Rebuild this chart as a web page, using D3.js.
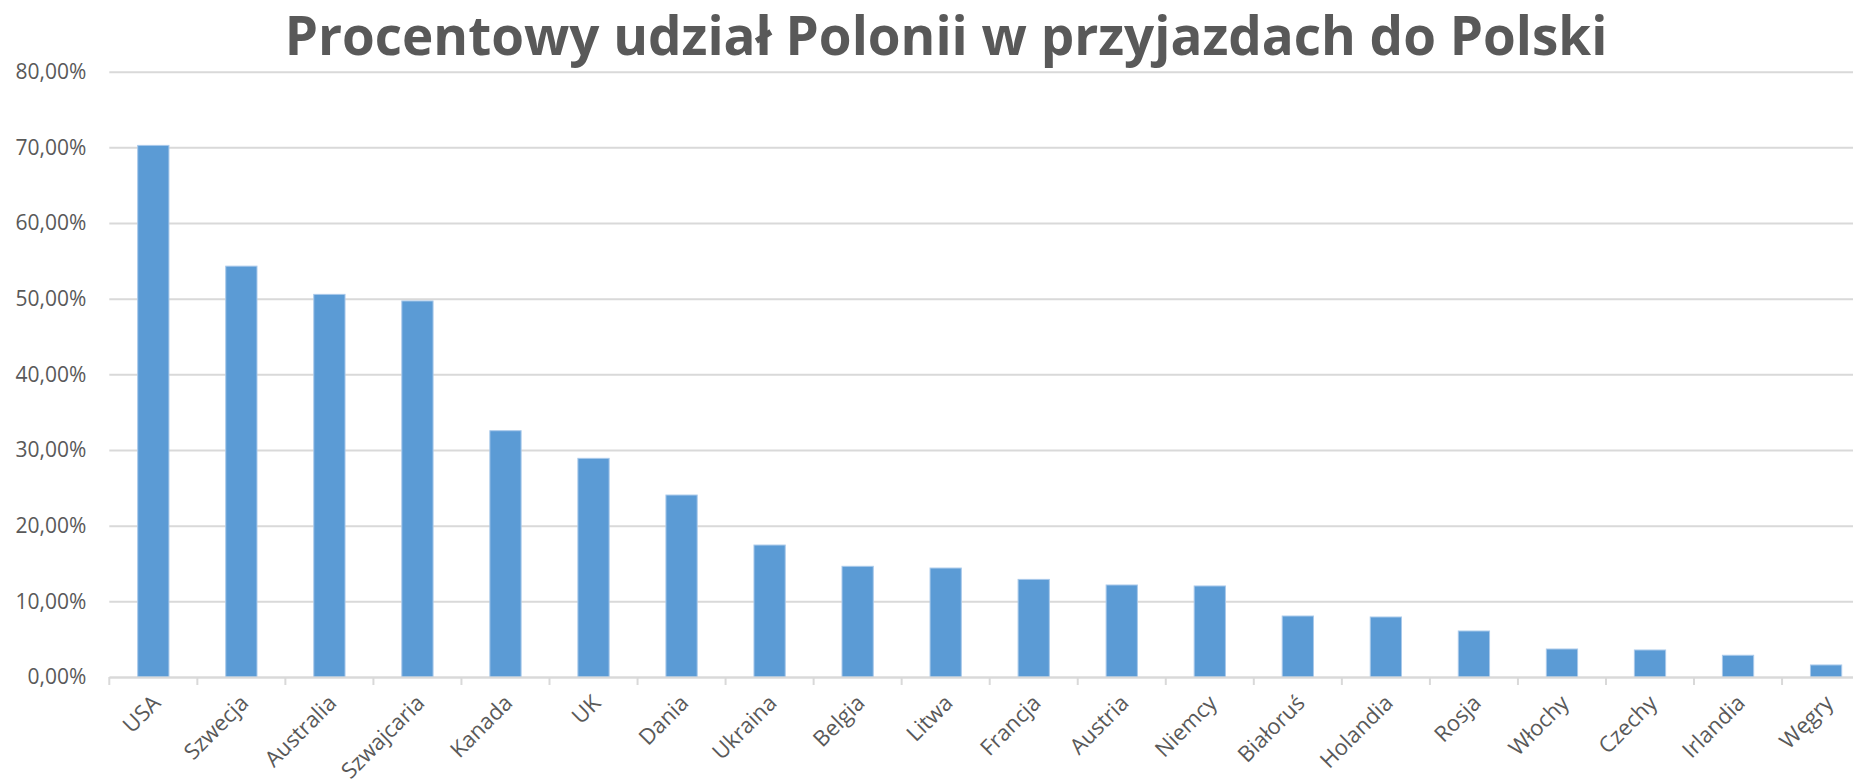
<!DOCTYPE html>
<html>
<head>
<meta charset="utf-8">
<script src="https://cdn.jsdelivr.net/npm/d3@7"></script>
<style>
  html, body { margin: 0; padding: 0; background: #fff; }
  svg { display: block; }
</style>
</head>
<body>
<div id="chart"></div>
<script>
const chartTitle = "Procentowy udział Polonii w przyjazdach do Polski";
const countries = ["USA", "Szwecja", "Australia", "Szwajcaria", "Kanada", "UK", "Dania", "Ukraina", "Belgia", "Litwa",
    "Francja", "Austria", "Niemcy", "Białoruś", "Holandia", "Rosja", "Włochy", "Czechy", "Irlandia", "Węgry"];
const shares = [0.7026, 0.5430, 0.5057, 0.4970, 0.3255, 0.2890, 0.2405, 0.1744, 0.1463, 0.1440,
    0.1290, 0.1216, 0.1203, 0.0806, 0.0793, 0.0608, 0.0370, 0.0357, 0.0287, 0.0159];
const yTicks = [0, 0.1, 0.2, 0.3, 0.4, 0.5, 0.6, 0.7, 0.8];

var width = 1853, height = 781;
var plotLeft = 109.3, step = 88.04,
    plotRight = plotLeft + step * countries.length,
    plotTop = 71.7, plotBottom = 677;

var svg = d3.select("#chart").append("svg")
    .attr("width", width)
    .attr("height", height);

/* scales */
var x = d3.scaleBand()
    .domain(countries)
    .range([plotLeft, plotRight])
    .paddingInner(0.645)
    .paddingOuter(0.3225);

var y = d3.scaleLinear()
    .domain([0, 0.8])
    .range([plotBottom, plotTop]);

var fmt = function(d) { return d3.format(".2f")(d * 100).replace(".", ",") + "%"; };

/* gridlines + y labels */
var yAxis = svg.append("g")
    .attr("transform", "translate(" + plotLeft + ",0)")
    .call(d3.axisLeft(y).tickValues(yTicks).tickFormat(fmt)
        .tickSize(-(plotRight - plotLeft)).tickPadding(23));
yAxis.select(".domain").remove();
yAxis.selectAll(".tick line")
    .attr("stroke", "#d9d9d9")
    .attr("stroke-width", 2);
yAxis.selectAll(".tick text")
    .attr("fill", "#595959")
    .style("font-family", "'Open Sans', sans-serif")
    .style("font-size", "21px");

/* bars */
svg.append("g").selectAll("rect")
    .data(countries)
    .enter().append("rect")
    .attr("x", function(d) { return x(d); })
    .attr("y", function(d, i) { return y(shares[i]); })
    .attr("width", x.bandwidth())
    .attr("height", function(d, i) { return y(0) - y(shares[i]); })
    .attr("fill", "#5b9bd5")
    .attr("stroke", "#a9c9ea")
    .attr("stroke-width", 1);

/* x axis */
var xAxis = svg.append("g")
    .attr("transform", "translate(0," + plotBottom + ")")
    .call(d3.axisBottom(x).tickSize(0).tickPadding(0));
xAxis.select(".domain")
    .attr("stroke", "#d9d9d9")
    .attr("stroke-width", 2);
xAxis.selectAll(".tick text")
    .attr("fill", "#595959")
    .style("font-family", "'Open Sans', sans-serif")
    .style("font-size", "22px")
    .attr("text-anchor", "end")
    .attr("dy", "0.35em")
    .attr("transform", "translate(3,22) rotate(-45)");

/* tick marks between categories */
svg.append("g").selectAll("line")
    .data(d3.range(countries.length + 1))
    .enter().append("line")
    .attr("x1", function(i) { return plotLeft + i * step; })
    .attr("x2", function(i) { return plotLeft + i * step; })
    .attr("y1", plotBottom)
    .attr("y2", plotBottom + 8)
    .attr("stroke", "#d9d9d9")
    .attr("stroke-width", 2);

/* title, fitted to the width it has in the picture */
var title = svg.append("text")
    .attr("x", 946)
    .attr("y", 55)
    .attr("text-anchor", "middle")
    .attr("fill", "#595959")
    .style("font-family", "'Open Sans', sans-serif")
    .style("font-weight", "bold")
    .style("font-size", "60px")
    .text(chartTitle);
var tw = title.node().getComputedTextLength();
title.style("font-size", (60 * 1323 / tw) + "px");
</script>
</body>
</html>
